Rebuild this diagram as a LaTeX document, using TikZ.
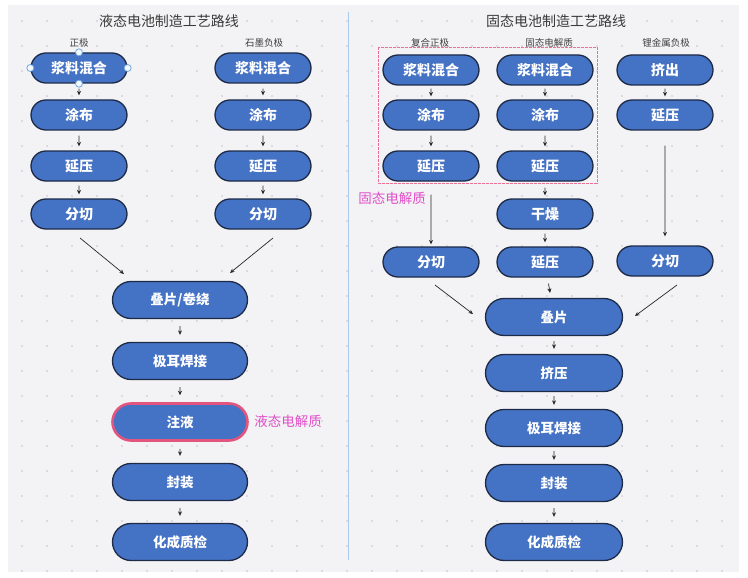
\documentclass[tikz,border=0pt]{standalone}
\usepackage{fontspec}
\setmainfont{Noto Sans CJK SC}
\usetikzlibrary{arrows.meta,shapes.misc}
\definecolor{nodeblue}{HTML}{4472C4}
\definecolor{nodeedge}{HTML}{1E2B47}
\definecolor{bgc}{HTML}{F3F3F5}
\definecolor{gridc}{HTML}{C6C6CC}
\definecolor{mag}{HTML}{E04FC8}
\definecolor{pinkb}{HTML}{E2557E}
\definecolor{pinkd}{HTML}{EE6F95}
\definecolor{divc}{HTML}{A9CBEA}
\definecolor{titlec}{HTML}{3A3A3A}
\definecolor{handlec}{HTML}{6FA8DC}
\definecolor{handlef}{HTML}{F4F8FC}
\tikzset{
  proc/.style={rounded rectangle, draw=nodeedge, line width=1.3pt, fill=nodeblue,
    text=white, font=\bfseries\fontsize{14}{14}\selectfont,
    minimum width=96pt, minimum height=30pt, inner sep=0pt},
  bigproc/.style={proc, minimum width=135pt, minimum height=37pt,
    font=\bfseries\fontsize{13.5}{14}\selectfont},
  arr/.style={-{Stealth[length=4.5pt,width=4pt]}, line width=0.7pt, draw=black!85},
  sh/.style 2 args={shorten <=#1pt, shorten >=#2pt},
  titletext/.style={text=titlec, font=\fontsize{14}{14}\selectfont, inner sep=0pt},
  coltext/.style={text=black!75, font=\fontsize{9.5}{10}\selectfont, inner sep=0pt},
  magtext/.style={text=mag, font=\fontsize{13.5}{14}\selectfont, inner sep=0pt},
  handle/.style={circle, draw=handlec, fill=handlef, line width=0.8pt, minimum size=7pt, inner sep=0pt}
}
\begin{document}
\begin{tikzpicture}[x=1pt,y=-1pt]
\useasboundingbox (0,0) rectangle (748,578);
\fill[white] (0,0) rectangle (748,578);
\fill[bgc] (8,5) rectangle (739,572);
\foreach \x in {22,47,...,722}
  \foreach \y in {21,46,...,571}
    \fill[gridc] (\x,\y) circle (0.8pt);
\draw[divc, line width=0.8pt] (348,12) -- (348,560);

% ---------- liquid ----------
\node[titletext] (t1) at (169,21) {液态电池制造工艺路线};
\node[coltext] (lpa) at (79,43) {正极};
\node[coltext] (lpb) at (264,43) {石墨负极};

\node[proc] (LA1) at (79,68) {浆料混合};
\node[proc] (LA2) at (79,115) {涂布};
\node[proc] (LA3) at (79,166) {延压};
\node[proc] (LA4) at (79,214) {分切};
\node[proc] (LB1) at (263,68) {浆料混合};
\node[proc] (LB2) at (263,115) {涂布};
\node[proc] (LB3) at (263,166) {延压};
\node[proc] (LB4) at (263,214) {分切};

\node[handle] (h1) at (LA1.north) {};
\node[handle] (h2) at (LA1.south) {};
\node[handle] (h3) at (LA1.west) {};
\node[handle] (h4) at (LA1.east) {};

\node[bigproc] (LM1) at (180,300) {叠片/卷绕};
\node[bigproc] (LM2) at (180,361) {极耳焊接};
\node[bigproc, draw=pinkb, line width=2.6pt] (LM3) at (180,422) {注液};
\node[bigproc] (LM4) at (180,482) {封装};
\node[bigproc] (LM5) at (180,542) {化成质检};
\node[magtext] (lel) at (288,421) {液态电解质};

\draw[arr, sh={5}{4}] (LA1) -- (LA2);
\draw[arr, sh={5}{4}] (LA2) -- (LA3);
\draw[arr, sh={4}{4}] (LA3) -- (LA4);
\draw[arr, sh={5}{4}] (LB1) -- (LB2);
\draw[arr, sh={5}{4}] (LB2) -- (LB3);
\draw[arr, sh={4}{4}] (LB3) -- (LB4);
\draw[arr, sh={7}{7}] (LM1) -- (LM2);
\draw[arr, sh={7}{7}] (LM2) -- (LM3);
\draw[arr, sh={7}{7}] (LM3) -- (LM4);
\draw[arr, sh={7}{7}] (LM4) -- (LM5);

\coordinate (da1) at (80,238);
\coordinate (da2) at (124,274);
\coordinate (db1) at (273,238);
\coordinate (db2) at (230,273);
\draw[arr] (da1) -- (da2);
\draw[arr] (db1) -- (db2);

% ---------- solid ----------
\node[titletext] (t2) at (556,21) {固态电池制造工艺路线};
\node[coltext] (rpa) at (430,43) {复合正极};
\node[coltext] (rpb) at (549,43) {固态电解质};
\node[coltext] (rpc) at (666,43) {锂金属负极};

\draw[pinkd, dash pattern=on 3pt off 1pt, line width=0.8pt] (378,47) rectangle (597,183);

\node[proc] (RA1) at (431,70) {浆料混合};
\node[proc] (RA2) at (431,115) {涂布};
\node[proc] (RA3) at (431,166) {延压};
\node[proc] (RA4) at (431,262) {分切};
\node[proc] (RB1) at (545,70) {浆料混合};
\node[proc] (RB2) at (545,115) {涂布};
\node[proc] (RB3) at (545,166) {延压};
\node[proc] (RB4) at (545,214) {干燥};
\node[proc] (RB5) at (545,262) {延压};
\node[proc] (RC1) at (665,70) {挤出};
\node[proc] (RC2) at (665,115) {延压};
\node[proc] (RC3) at (665,261) {分切};
\node[magtext] (sel) at (392,198) {固态电解质};

\node[bigproc, minimum width=137pt] (RM1) at (554,317) {叠片};
\node[bigproc, minimum width=137pt] (RM2) at (554,373) {挤压};
\node[bigproc, minimum width=137pt] (RM3) at (554,428) {极耳焊接};
\node[bigproc, minimum width=137pt] (RM4) at (554,483) {封装};
\node[bigproc, minimum width=137pt] (RM5) at (554,542) {化成质检};

\draw[arr, sh={3}{3}] (RA1) -- (RA2);
\draw[arr, sh={5}{4}] (RA2) -- (RA3);
\draw[arr, sh={13}{2}] (RA3) -- (RA4);
\draw[arr, sh={3}{3}] (RB1) -- (RB2);
\draw[arr, sh={5}{4}] (RB2) -- (RB3);
\draw[arr, sh={6}{3}] (RB3) -- (RB4);
\draw[arr, sh={4}{4}] (RB4) -- (RB5);
\draw[arr, sh={6}{5}] (RB5) -- (RM1);
\draw[arr, sh={3}{3}] (RC1) -- (RC2);
\draw[arr, sh={15}{9}] (RC2) -- (RC3);
\draw[arr, sh={5}{5}] (RM1) -- (RM2);
\draw[arr, sh={4}{4}] (RM2) -- (RM3);
\draw[arr, sh={4}{4}] (RM3) -- (RM4);
\draw[arr, sh={6}{6}] (RM4) -- (RM5);

\coordinate (dc1) at (435,285);
\coordinate (dc2) at (473,314);
\coordinate (dd1) at (677,285);
\coordinate (dd2) at (635,316);
\draw[arr] (dc1) -- (dc2);
\draw[arr] (dd1) -- (dd2);
\end{tikzpicture}
\end{document}
